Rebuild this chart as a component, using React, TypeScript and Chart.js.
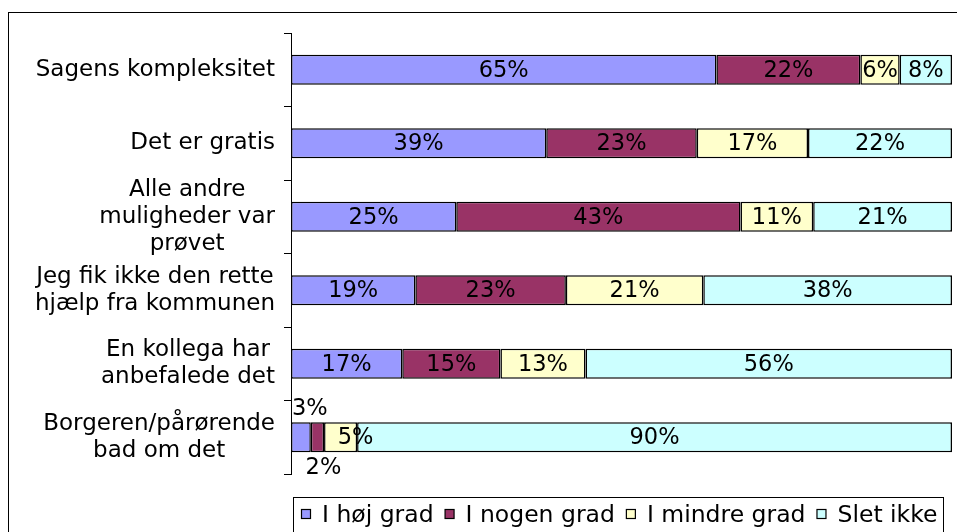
import React, { useEffect, useRef } from "react";
import { Chart, registerables } from "chart.js";

Chart.register(...registerables);

const categories: string[][] = [
  ["Sagens kompleksitet"],
  ["Det er gratis"],
  ["Alle andre", "muligheder var", "prøvet"],
  ["Jeg fik ikke den rette", "hjælp fra kommunen"],
  ["En kollega har", "anbefalede det"],
  ["Borgeren/pårørende", "bad om det"],
];

const seriesNames = ["I høj grad", "I nogen grad", "I mindre grad", "Slet ikke"];
const seriesColors = ["#9999FF", "#993366", "#FFFFCC", "#CCFFFF"];

const hoejGrad = [65, 39, 25, 19, 17, 3];
const nogenGrad = [22, 23, 43, 23, 15, 2];
const mindreGrad = [6, 17, 11, 21, 13, 5];
const sletIkke = [8, 22, 21, 38, 56, 90];

const seriesValues = [hoejGrad, nogenGrad, mindreGrad, sletIkke];

const FONT = '"DejaVu Sans", Verdana, sans-serif';
const LABEL_SIZE = 23;
const DATA_SIZE = 22.5;
const LEGEND_SIZE = 23.5;

export default function App() {
  const ref = useRef<HTMLCanvasElement | null>(null);

  useEffect(() => {
    const canvas = ref.current;
    if (!canvas) return;
    const rowSums = categories.map((_, j) =>
      seriesValues.reduce((s, arr) => s + arr[j], 0)
    );

    const framePlugin = {
      id: "frame",
      beforeDraw(chart: any) {
        const ctx = chart.ctx;
        ctx.save();
        ctx.fillStyle = "#fff";
        ctx.fillRect(0, 0, chart.width, chart.height);
        ctx.strokeStyle = "#000";
        ctx.lineWidth = 1;
        ctx.strokeRect(8.5, 12.5, chart.width + 20, chart.height + 20);
        ctx.restore();
      },
    };

    const labelsPlugin = {
      id: "customLabels",
      afterDraw(chart: any) {
        const ctx = chart.ctx;
        const yScale = chart.scales.y;
        ctx.save();
        // category labels
        ctx.font = `${LABEL_SIZE}px ${FONT}`;
        ctx.fillStyle = "#000";
        ctx.textAlign = "center";
        ctx.textBaseline = "middle";
        const lineH = 27;
        const rightEdge = 275;
        categories.forEach((lines, j) => {
          const cy = yScale.getPixelForValue(j);
          const widest = Math.max(...lines.map((l) => ctx.measureText(l).width));
          const cx = rightEdge - widest / 2;
          const top = cy - ((lines.length - 1) * lineH) / 2;
          lines.forEach((l, k) => ctx.fillText(l, cx, top + k * lineH));
        });

        // data labels
        ctx.font = `${DATA_SIZE}px ${FONT}`;
        chart.data.datasets.forEach((ds: any, i: number) => {
          const meta = chart.getDatasetMeta(i);
          meta.data.forEach((el: any, j: number) => {
            const text = `${seriesValues[i][j]}%`;
            const tw = ctx.measureText(text).width;
            const left = Math.min(el.x, el.base);
            const right = Math.max(el.x, el.base);
            const w = right - left;
            const h = el.height;
            let x = (left + right) / 2;
            let y = el.y + 1;
            ctx.textAlign = "center";
            if (w < tw) {
              if (i === 0) {
                ctx.textAlign = "left";
                x = left + 1;
                y = el.y - h / 2 - 13;
              } else if (i === 1) {
                x = x + 6;
                y = el.y + h / 2 + 16;
              } else {
                x = x + 15;
              }
            }
            ctx.fillText(text, x, y);
          });
        });

        // legend
        ctx.strokeStyle = "#000";
        ctx.lineWidth = 1;
        ctx.strokeRect(293.5, 497.5, 650, 60);
        ctx.font = `${LEGEND_SIZE}px ${FONT}`;
        ctx.textAlign = "left";
        ctx.textBaseline = "middle";
        let lx = 301;
        const ly = 515;
        seriesNames.forEach((name, i) => {
          ctx.fillStyle = seriesColors[i];
          ctx.fillRect(lx + 0.5, ly - 5.5, 9, 9);
          ctx.strokeStyle = "#000";
          ctx.lineWidth = 1.2;
          ctx.strokeRect(lx + 0.5, ly - 5.5, 9, 9);
          ctx.fillStyle = "#000";
          ctx.fillText(name, lx + 21, ly + 1);
          lx += 21 + ctx.measureText(name).width + 11;
        });
        ctx.restore();
      },
    };

    const chart = new Chart(canvas, {
      type: "bar",
      data: {
        labels: categories.map((c) => c.join(" ")),
        datasets: seriesNames.map((name, i) => ({
          label: name,
          data: seriesValues[i].map((v, j) => (v / rowSums[j]) * 100),
          backgroundColor: seriesColors[i],
          borderColor: "#000",
          borderWidth: 1.5,
          borderSkipped: false,
          barPercentage: 0.41,
          categoryPercentage: 1,
        })),
      },
      options: {
        indexAxis: "y",
        animation: false,
        responsive: false,
        maintainAspectRatio: false,
        events: [],
        layout: { padding: { left: 0, top: 33, right: 5, bottom: 58 } },
        plugins: {
          legend: { display: false },
          tooltip: { enabled: false },
          title: { display: false },
        },
        scales: {
          x: { stacked: true, min: 0, max: 100, display: false },
          y: {
            stacked: true,
            ticks: { display: false },
            grid: {
              display: true,
              drawOnChartArea: false,
              drawTicks: true,
              tickLength: 7,
              color: "#000",
              offset: true,
            },
            border: { display: true, color: "#000", width: 1 },
            afterFit: (s: any) => {
              s.width = 291;
            },
          },
        },
      },
      plugins: [framePlugin, labelsPlugin],
    });
    return () => chart.destroy();
  }, []);

  return (
    <div style={{ position: "fixed", left: 0, top: 0, width: 957, height: 532 }}>
      <canvas ref={ref} width={957} height={532} style={{ width: 957, height: 532, display: "block" }} />
    </div>
  );
}
